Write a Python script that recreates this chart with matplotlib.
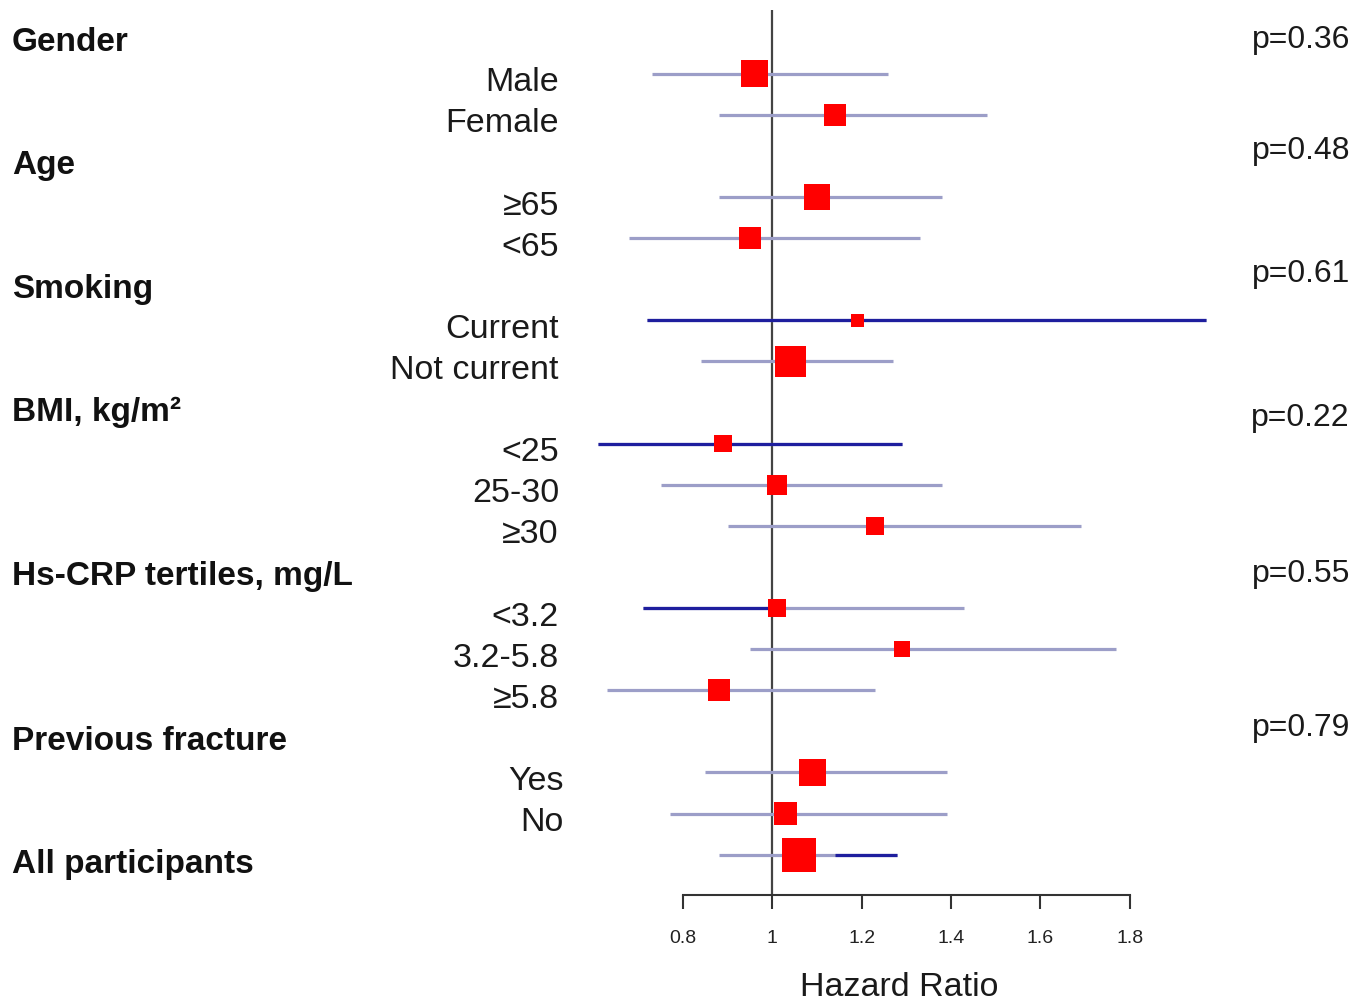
import matplotlib
matplotlib.use("Agg")
import matplotlib.pyplot as plt
from matplotlib.transforms import blended_transform_factory

plt.rcParams['font.family'] = ['Liberation Sans', 'DejaVu Sans']

# ---------------- data ----------------
headers = ["Gender", "Age", "Smoking", "BMI, kg/m\u00b2", "Hs-CRP tertiles, mg/L",
           "Previous fracture", "All participants"]
header_rows = [0, 3, 6, 9, 13, 17, 20]

subgroups = ["Male", "Female", "\u226565", "<65", "Current", "Not current",
             "<25", "25-30", "\u226530", "<3.2", "3.2-5.8", "\u22655.8",
             "Yes", "No"]
sub_rows = [1, 2, 4, 5, 7, 8, 10, 11, 12, 14, 15, 16, 18, 19]

# all rows with estimates (subgroups + all participants)
est_rows = [1, 2, 4, 5, 7, 8, 10, 11, 12, 14, 15, 16, 18, 19, 20]
hr = [0.96, 1.14, 1.10, 0.95, 1.19, 1.04, 0.89, 1.01, 1.23, 1.01, 1.29, 0.88, 1.09, 1.03, 1.06]
ci_low = [0.73, 0.88, 0.88, 0.68, 0.72, 0.84, 0.61, 0.75, 0.90, 0.71, 0.95, 0.63, 0.85, 0.77, 0.88]
ci_high = [1.26, 1.48, 1.38, 1.33, 1.97, 1.27, 1.29, 1.38, 1.69, 1.43, 1.77, 1.23, 1.39, 1.39, 1.28]
weights = [26.6, 22.0, 26.5, 21.7, 13.0, 30.7, 17.5, 19.6, 17.6, 18.0, 16.0, 22.0, 27.0, 23.0, 34.0]

# dark-blue segments of the CI lines (row, from, to)
dark_rows = [7, 10, 14, 20]
dark_from = [0.72, 0.61, 0.71, 1.14]
dark_to = [1.97, 1.29, 1.01, 1.28]

p_labels = ["p=0.36", "p=0.48", "p=0.61", "p=0.22", "p=0.55", "p=0.79"]
p_rows = [0.05, 2.75, 5.75, 9.25, 13.05, 16.8]

xticks = [0.8, 1.0, 1.2, 1.4, 1.6, 1.8]
xticklabels = ["0.8", "1", "1.2", "1.4", "1.6", "1.8"]

# ---------------- layout ----------------
W, H = 1368, 1002
PX = 1 / 446.7          # data units per pixel (x)
X08 = 683               # pixel of 0.8
ROW = 41.1              # pixels per row
Y0 = 32.6               # pixel of row 0
AXIS_ROW = (895 - Y0) / ROW
sub_right_px = [559] * 12 + [564, 564]

fig = plt.figure(figsize=(W / 100, H / 100), dpi=100)
ax = fig.add_axes([0, 0, 1, 1])
ax.set_xlim(0.8 - X08 * PX, 0.8 + (W - X08) * PX)
ax.set_ylim((H - Y0) / ROW, -Y0 / ROW)

light = '#9c9ec8'
dark = '#1e1e9e'

# reference line
ax.vlines(1.0, (10 - Y0) / ROW, AXIS_ROW, color='#444444', lw=1.6, zorder=1)

# CI lines
ax.hlines(est_rows, ci_low, ci_high, colors=light, lw=2.3, zorder=2)
ax.hlines(dark_rows, dark_from, dark_to, colors=dark, lw=2.3, zorder=2.1)

# point estimates
ax.scatter(hr, est_rows, marker='s', s=[(w * 0.72) ** 2 for w in weights],
           color='#ff0000', linewidths=0, zorder=3)

# axis
for s in ['top', 'right', 'left']:
    ax.spines[s].set_visible(False)
ax.spines['bottom'].set_position(('data', AXIS_ROW))
ax.spines['bottom'].set_bounds(0.8, 1.8)
ax.spines['bottom'].set_color('#333333')
ax.spines['bottom'].set_linewidth(1.5)
ax.set_xticks(xticks)
ax.set_xticklabels(xticklabels)
ax.tick_params(axis='x', direction='out', length=10, width=1.5, color='#333333',
               pad=15, labelsize=14, labelcolor='#222222')
ax.set_yticks([])
ax.patch.set_visible(False)

ax.text(1.284, (987 - Y0) / ROW, "Hazard Ratio", ha='center', va='center',
        fontsize=24.5, color='#1a1a1a')

# text columns
tr = blended_transform_factory(fig.transFigure, ax.transData)
for lab, r in zip(headers, header_rows):
    ax.text(12 / W, r + 0.24, lab, transform=tr, ha='left', va='center',
            fontsize=24, fontweight='bold', color='#111111')
for lab, r, xr in zip(subgroups, sub_rows, sub_right_px):
    ax.text(xr / W, r + 0.22, lab, transform=tr, ha='right', va='center',
            fontsize=24.5, color='#1a1a1a')
for lab, r in zip(p_labels, p_rows):
    ax.text(1350 / W, r + 0.12, lab, transform=tr, ha='right', va='center',
            fontsize=23, color='#1a1a1a')

fig.savefig("out.png", dpi=100)
